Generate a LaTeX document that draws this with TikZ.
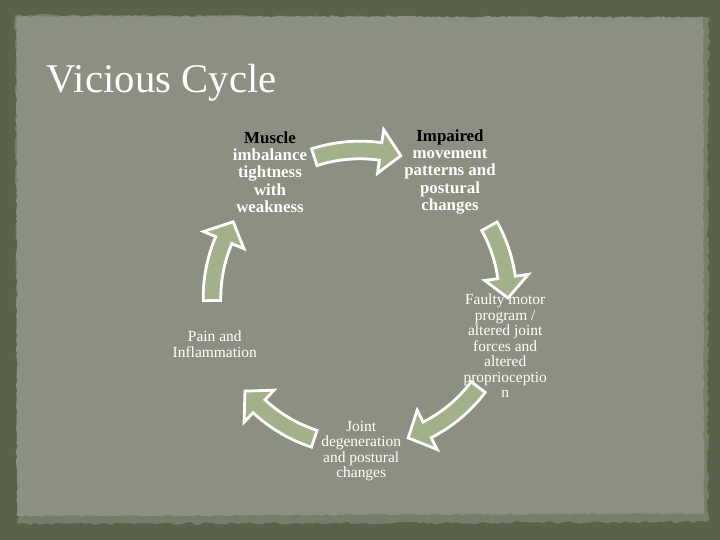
\documentclass[tikz,border=0pt]{standalone}
\usepackage{fontspec}
\setmainfont{Liberation Serif}
\usepackage{xcolor}
\usetikzlibrary{calc, decorations.pathmorphing}
\definecolor{olivedark}{RGB}{90, 98, 76}
\definecolor{paperfill}{RGB}{139, 144, 130}
\definecolor{paperedge}{RGB}{118, 126, 106}
\definecolor{arrowgreen}{RGB}{162, 177, 138}
\tikzset{
  topstep/.style={text=white, align=center, font=\fontsize{12}{12.3}\selectfont\bfseries},
  lowstep/.style={text=white, align=center, font=\fontsize{11}{11}\selectfont},
  cyclearrow/.style={fill=arrowgreen, draw=white, line width=2pt, line join=miter},
}

\begin{document}
\begin{tikzpicture}
  % background and torn paper
  \fill[olivedark] (0,0) rectangle (18,13.5);
  \fill[paperedge, decorate, decoration={random steps, segment length=3pt, amplitude=1pt}]
        (0.45,0.4) -- (17.7,0.45) -- (17.72,13.05) -- (0.38,13.12) -- cycle;
  \fill[paperfill, decorate, decoration={random steps, segment length=2pt, amplitude=0.6pt}]
        (0.42,0.6) -- (17.6,0.66) -- (17.58,13.07) -- (0.42,13.1) -- cycle;
  \useasboundingbox (0,0) rectangle (18,13.5);

  \node[anchor=base west, text=white, font=\fontsize{29}{30}\selectfont] (title) at (1.05,11.18)
        {Vicious Cycle};

  \coordinate (hub) at (9,6.05);

  \node[topstep] (muscle) at (6.75,9.2)
        {\textcolor{black}{Muscle}\\imbalance\\tightness\\with\\weakness};
  \node[topstep] (impaired) at (11.25,9.2)
        {\textcolor{black}{Impaired}\\movement\\patterns and\\postural\\changes};
  \node[lowstep] (faulty) at (12.63,4.85)
        {Faulty motor\\program /\\altered joint\\forces and\\altered\\proprioceptio\\n};
  \node[lowstep] (joint) at (9.03,2.22)
        {Joint\\degeneration\\and postural\\changes};
  \node[lowstep] (pain) at (5.37,4.9)
        {Pain and\\Inflammation};

  % curved block arrows round the hub
  \foreach \s/\e in {108/74, 29/0, -37/-71, -108/-141, 181/149}{
    \pgfmathsetmacro{\h}{\e+8}
    \draw[cyclearrow] ($(hub)+(\s:3.92)$) arc[start angle=\s, end angle=\h, radius=3.92cm]
      -- ($(hub)+(\h:4.25)$) -- ($(hub)+(\e:3.7)$) -- ($(hub)+(\h:3.15)$)
      -- ($(hub)+(\h:3.48)$) arc[start angle=\h, end angle=\s, radius=3.48cm] -- cycle;
  }
\end{tikzpicture}
\end{document}
